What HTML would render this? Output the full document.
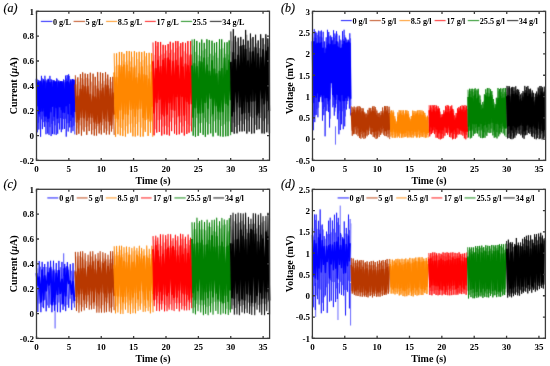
<!DOCTYPE html><html><head><meta charset="utf-8"><style>html,body{margin:0;padding:0;background:#fff;}svg{display:block;will-change:transform}</style></head><body>
<svg width="550" height="366" viewBox="0 0 550 366">
<defs><filter id="bl" x="0" y="0" width="550" height="366" filterUnits="userSpaceOnUse" color-interpolation-filters="sRGB"><feConvolveMatrix order="3" kernelMatrix="0.01134 0.08382 0.01134 0.08382 0.61935 0.08382 0.01134 0.08382 0.01134" edgeMode="duplicate"/></filter></defs>
<rect width="550" height="366" fill="#fff"/>
<g filter="url(#bl)">
<g stroke-linejoin="round" stroke-linecap="butt">
<polyline fill="none" stroke="#0000ff" stroke-width="0.80" stroke-opacity="0.50" points="37.35,79.46 38.20,122.72 39.11,80.46 39.70,116.75 40.99,81.10 41.43,119.30 42.30,78.20 43.27,122.11 44.15,80.05 45.25,121.30 45.76,79.16 46.83,122.33 47.78,80.67 48.61,122.12 49.04,79.95 49.89,127.12 50.76,79.23 51.95,123.98 52.50,80.02 53.31,120.87 54.59,80.25 55.06,125.37 55.85,81.11 57.04,118.85 57.55,79.38 58.54,123.20 59.49,80.74 60.50,118.10 61.27,81.02 62.19,118.24 62.62,81.10 63.58,119.04 64.39,80.27 65.43,118.74 66.46,78.57 67.07,123.27 67.99,76.52 69.04,123.02 69.47,75.92 70.60,121.02 71.34,79.77 71.99,127.26 73.17,79.68 73.83,125.75 74.71,80.33"/>
<polyline fill="none" stroke="#0000ff" stroke-width="0.75" points="36.50,78.22 37.35,132.32 38.26,79.96 38.85,129.55 40.14,81.24 40.58,136.77 41.45,75.85 42.42,129.11 43.30,78.98 44.40,126.92 44.91,75.76 45.98,134.27 46.93,80.36 47.76,133.59 48.19,78.74 49.04,134.89 49.91,75.88 51.10,136.05 51.65,79.50 52.46,134.08 53.74,80.04 54.21,134.33 55.00,81.42 56.19,134.92 56.70,78.39 57.69,133.76 58.64,80.51 59.65,129.44 60.42,81.06 61.34,132.13 61.77,81.22 62.73,129.36 63.54,79.42 64.58,128.97 65.61,75.57 66.22,136.64 67.14,75.03 68.19,131.50 68.62,74.31 69.75,127.40 70.49,79.49 71.14,132.78 72.32,79.29 72.98,131.16 73.86,79.94 74.81,134.44"/>
<polyline fill="none" stroke="#0000ff" stroke-width="1.60" points="36.50,79.14 37.35,105.76 38.26,82.54 38.85,113.73 40.14,81.24 40.58,111.14 41.45,82.81 42.42,111.00 43.30,81.05 44.40,116.03 44.91,81.74 45.98,116.13 46.93,82.93 47.76,118.22 48.19,79.74 49.04,117.97 49.91,82.52 51.10,111.63 51.65,82.39 52.46,106.20 53.74,81.68 54.21,116.25 55.00,82.06 56.19,107.51 56.70,81.93 57.69,117.89 58.64,82.18 59.65,106.78 60.42,82.12 61.34,109.47 61.77,81.95 62.73,112.21 63.54,82.65 64.58,112.49 65.61,82.86 66.22,105.63 67.14,81.45 68.19,113.69 68.62,82.86 69.75,103.21 70.49,81.62 71.14,114.41 72.32,79.68 72.98,116.98 73.86,79.94 74.81,111.99"/>
<polyline fill="none" stroke="#b83800" stroke-width="0.80" stroke-opacity="0.30" points="76.58,79.29 77.95,128.49 79.05,81.78 80.10,125.36 81.68,78.05 82.71,129.72 83.93,79.21 85.30,127.12 86.43,77.76 88.02,126.46 88.90,78.65 90.44,123.88 91.56,81.66 92.90,130.15 94.32,85.42 95.52,128.85 96.49,85.68 97.81,126.16 98.90,81.08 100.40,130.32 101.68,83.68 102.59,125.26 103.97,80.88 105.39,128.66 106.79,78.53 107.65,130.82 109.02,79.49 110.56,125.47 111.69,81.83 112.69,128.96 114.10,80.27"/>
<polyline fill="none" stroke="#b83800" stroke-width="0.95" points="75.33,75.23 76.70,134.80 77.80,77.42 78.85,133.75 80.43,74.03 81.46,135.55 82.68,72.40 84.05,131.60 85.18,73.57 86.77,134.82 87.65,74.02 89.19,131.06 90.31,72.75 91.65,134.34 93.07,73.71 94.27,135.54 95.24,76.85 96.56,135.55 97.65,72.20 99.15,133.42 100.43,72.48 101.34,134.44 102.72,73.07 104.14,132.71 105.54,72.24 106.40,134.53 107.77,74.59 109.31,134.48 110.44,77.18 111.44,131.52 112.85,76.84 114.17,134.95"/>
<polyline fill="none" stroke="#b83800" stroke-width="1.90" points="75.33,84.38 76.70,122.06 77.80,96.25 78.85,119.18 80.43,89.33 81.46,117.15 82.68,85.53 84.05,117.44 85.18,86.83 86.77,120.34 87.65,86.42 89.19,116.87 90.31,94.55 91.65,117.31 93.07,96.37 94.27,121.76 95.24,97.09 96.56,123.12 97.65,89.13 99.15,122.87 100.43,91.14 101.34,121.82 102.72,88.25 104.14,118.19 105.54,85.18 106.40,120.82 107.77,85.87 109.31,121.11 110.44,88.97 111.44,124.83 112.85,93.16 114.17,114.68"/>
<polyline fill="none" stroke="#ff8700" stroke-width="0.80" stroke-opacity="0.30" points="115.44,66.24 116.82,122.30 117.83,65.14 119.17,126.73 120.64,65.25 121.53,127.95 122.99,60.52 124.07,130.35 125.27,61.83 126.70,126.10 127.97,60.40 129.12,124.32 130.51,61.48 131.90,123.58 132.73,56.86 134.15,127.26 135.63,65.62 136.51,123.95 137.84,59.08 138.98,122.08 140.43,61.84 141.68,127.64 142.99,60.02 144.35,129.64 145.62,56.38 146.53,120.03 147.79,65.51 149.33,121.43 150.37,64.42 151.76,120.15 152.92,59.98"/>
<polyline fill="none" stroke="#ff8700" stroke-width="0.95" points="114.19,53.26 115.57,136.77 116.58,53.37 117.92,134.19 119.39,51.96 120.28,135.41 121.74,52.08 122.82,136.07 124.02,53.76 125.45,136.59 126.72,51.06 127.87,133.60 129.26,51.08 130.65,132.55 131.48,51.76 132.90,136.29 134.38,51.12 135.26,136.54 136.59,52.49 137.73,135.50 139.18,51.77 140.43,136.67 141.74,52.11 143.10,136.52 144.37,51.43 145.28,131.84 146.54,53.03 148.08,135.91 149.12,52.81 150.51,132.66 151.67,53.20 152.76,136.77"/>
<polyline fill="none" stroke="#ff8700" stroke-width="1.90" points="114.19,72.37 115.57,118.14 116.58,77.50 117.92,118.80 119.39,65.54 120.28,109.72 121.74,67.10 122.82,118.89 124.02,65.26 125.45,113.78 126.72,65.24 127.87,114.22 129.26,71.61 130.65,109.37 131.48,67.51 132.90,108.09 134.38,68.05 135.26,116.28 136.59,78.02 137.73,109.06 139.18,74.02 140.43,108.30 141.74,66.99 143.10,117.16 144.37,74.92 145.28,119.59 146.54,75.74 148.08,117.98 149.12,79.31 150.51,120.93 151.67,72.14 152.76,106.68"/>
<polyline fill="none" stroke="#ff0000" stroke-width="0.80" stroke-opacity="0.30" points="154.28,54.85 155.34,129.28 156.96,45.89 157.98,120.09 159.26,56.05 160.60,119.58 161.87,54.47 163.01,126.63 164.35,53.48 165.55,125.79 166.63,50.53 168.16,127.19 169.35,53.09 170.61,121.65 171.51,49.70 172.87,117.63 174.33,52.59 175.75,124.64 176.99,48.10 177.88,117.27 179.19,46.38 180.53,122.40 182.00,55.79 183.05,126.35 184.08,51.28 185.56,120.94 186.76,53.67 188.08,124.33 189.15,55.45 190.33,125.94"/>
<polyline fill="none" stroke="#ff0000" stroke-width="0.95" points="153.03,42.44 154.09,135.34 155.71,41.17 156.73,132.64 158.01,42.04 159.35,132.01 160.62,41.94 161.76,135.55 163.10,44.80 164.30,134.29 165.38,45.25 166.91,134.73 168.10,44.05 169.36,135.53 170.26,41.75 171.62,131.11 173.08,42.73 174.50,133.50 175.74,41.12 176.63,134.75 177.94,41.17 179.28,134.27 180.75,43.14 181.80,132.69 182.83,42.23 184.31,135.53 185.51,42.90 186.83,133.99 187.90,41.12 189.08,132.72 190.62,41.13 191.54,131.47"/>
<polyline fill="none" stroke="#ff0000" stroke-width="1.90" points="153.03,61.23 154.09,112.83 155.71,68.72 156.73,102.12 158.01,60.75 159.35,99.08 160.62,66.75 161.76,113.94 163.10,60.33 164.30,115.81 165.38,58.63 166.91,114.01 168.10,58.32 169.36,102.43 170.26,60.19 171.62,109.20 173.08,61.75 174.50,109.93 175.74,60.54 176.63,96.35 177.94,65.93 179.28,115.48 180.75,57.67 181.80,96.23 182.83,67.13 184.31,115.02 185.51,64.23 186.83,101.21 187.90,66.01 189.08,103.43 190.62,55.02 191.54,104.26"/>
<polyline fill="none" stroke="#008000" stroke-width="0.80" stroke-opacity="0.30" points="193.32,45.61 194.44,127.32 195.64,51.90 196.69,117.77 198.05,55.17 199.37,123.34 200.83,56.19 201.64,122.81 203.01,50.57 204.38,117.96 205.46,48.86 206.60,122.25 208.15,57.00 209.13,123.93 210.52,53.77 211.96,116.45 213.24,55.70 214.30,121.26 215.66,52.72 216.96,119.38 217.88,57.82 219.37,119.85 220.72,49.13 221.62,125.97 222.97,48.31 224.27,124.37 225.79,53.81 226.98,121.65 228.30,54.56 229.27,121.37 230.43,51.41"/>
<polyline fill="none" stroke="#008000" stroke-width="0.95" points="192.07,39.48 193.19,135.70 194.39,39.31 195.44,136.78 196.80,40.92 198.12,135.92 199.58,42.64 200.39,132.83 201.76,39.53 203.13,134.80 204.21,42.83 205.35,136.77 206.90,39.30 207.88,134.52 209.27,40.11 210.71,133.30 211.99,40.71 213.05,136.46 214.41,42.90 215.71,132.58 216.63,42.11 218.12,135.62 219.47,39.28 220.37,136.33 221.72,39.33 223.02,136.72 224.54,42.55 225.73,136.33 227.05,42.24 228.02,136.14 229.18,40.44 230.67,135.22"/>
<polyline fill="none" stroke="#008000" stroke-width="1.90" points="192.07,65.53 193.19,116.97 194.39,63.65 195.44,107.56 196.80,66.80 198.12,112.77 199.58,61.59 200.39,112.91 201.76,62.51 203.13,112.26 204.21,58.20 205.35,102.19 206.90,65.19 207.88,108.03 209.27,71.38 210.71,98.09 211.99,60.94 213.05,113.44 214.41,69.24 215.71,105.46 216.63,73.85 218.12,110.84 219.47,71.33 220.37,111.67 221.72,68.63 223.02,111.34 224.54,58.24 225.73,103.17 227.05,70.68 228.02,104.79 229.18,60.41 230.67,100.22"/>
<polyline fill="none" stroke="#000000" stroke-width="0.80" stroke-opacity="0.30" points="232.11,41.20 233.19,122.68 234.57,36.62 235.46,126.97 236.71,41.66 238.24,125.00 239.43,46.12 240.90,120.89 242.03,45.14 243.33,124.20 244.58,44.82 245.68,119.34 246.88,34.76 248.10,120.59 249.31,47.70 250.47,116.57 251.70,38.47 252.93,117.87 254.28,46.74 255.51,124.84 256.82,43.39 258.05,117.71 259.44,48.18 260.44,117.93 261.93,38.25 263.25,121.15 264.35,44.26 265.50,118.40 267.10,38.23 268.05,124.30 269.17,42.85"/>
<polyline fill="none" stroke="#000000" stroke-width="0.95" points="230.86,31.41 231.94,132.09 233.32,29.15 234.21,133.65 235.46,35.89 236.99,133.39 238.18,37.70 239.65,131.44 240.78,36.91 242.08,131.48 243.33,39.48 244.43,131.18 245.63,29.93 246.85,133.55 248.06,40.67 249.22,131.60 250.45,33.57 251.68,133.63 253.03,37.03 254.26,133.29 255.57,34.74 256.80,129.77 258.19,40.48 259.19,129.22 260.68,34.31 262.00,133.41 263.10,38.16 264.25,133.56 265.85,34.31 266.80,132.27 267.92,38.51 269.21,133.32"/>
<polyline fill="none" stroke="#000000" stroke-width="1.90" points="230.86,61.86 231.94,115.69 233.32,52.73 234.21,111.41 235.46,59.74 236.99,101.75 238.18,55.38 239.65,106.85 240.78,46.33 242.08,113.58 243.33,45.58 244.43,112.62 245.63,49.35 246.85,101.44 248.06,61.21 249.22,112.13 250.45,52.08 251.68,101.07 253.03,51.90 254.26,100.85 255.57,48.03 256.80,114.72 258.19,53.85 259.19,112.61 260.68,57.47 262.00,97.83 263.10,49.83 264.25,103.64 265.85,51.16 266.80,100.44 267.92,47.52 269.21,111.02"/>
</g>
<line x1="40.90" x2="52.40" y1="21.40" y2="21.40" stroke="#0000ff" stroke-width="0.90" stroke-opacity="1.00"/>
<line x1="73.60" x2="85.10" y1="21.40" y2="21.40" stroke="#b83800" stroke-width="0.90" stroke-opacity="1.00"/>
<line x1="106.10" x2="117.30" y1="21.40" y2="21.40" stroke="#ff8700" stroke-width="0.90" stroke-opacity="1.00"/>
<line x1="144.90" x2="155.80" y1="21.40" y2="21.40" stroke="#ff0000" stroke-width="0.90" stroke-opacity="1.00"/>
<line x1="180.90" x2="192.10" y1="21.40" y2="21.40" stroke="#008000" stroke-width="0.90" stroke-opacity="1.00"/>
<line x1="209.90" x2="221.70" y1="21.40" y2="21.40" stroke="#000000" stroke-width="0.90" stroke-opacity="1.00"/>
<g stroke-linejoin="round" stroke-linecap="butt">
<polyline fill="none" stroke="#0000ff" stroke-width="0.80" stroke-opacity="0.40" points="313.25,37.54 314.18,114.71 314.96,37.60 315.52,115.47 316.16,38.00 316.98,109.14 317.55,34.93 318.66,107.76 319.36,36.65 319.76,99.25 320.81,36.50 321.40,96.36 322.13,37.50 323.22,108.93 323.91,41.60 324.59,106.96 325.42,47.41 325.83,111.33 326.96,41.77 327.63,104.34 328.21,35.14 329.24,106.76 329.51,36.30 330.30,118.69 331.41,37.99 332.20,87.80 332.57,39.77 333.61,105.16 334.31,37.81 335.04,111.64 335.68,35.60 336.32,103.84 337.28,33.80 338.16,113.35 338.64,43.36 339.67,110.72 340.02,39.03 341.08,119.67 341.69,47.11 342.35,111.30 343.28,38.99 344.03,108.41 344.84,35.23 345.48,116.51 346.38,38.68 347.17,104.26 347.78,41.32 348.47,98.51 349.36,41.15 350.13,100.10 350.56,38.32 351.28,105.64"/>
<polyline fill="none" stroke="#0000ff" stroke-width="0.70" points="312.50,33.57 313.43,130.21 314.21,29.15 314.77,122.13 315.41,31.57 316.23,114.94 316.80,32.61 317.91,117.28 318.61,30.70 319.01,101.25 320.06,31.33 320.65,97.14 321.38,30.48 322.47,120.72 323.16,31.78 323.84,115.20 324.67,41.45 325.08,136.32 326.21,37.35 326.88,110.83 327.46,29.80 328.49,112.06 328.76,31.97 329.55,127.53 330.66,35.51 331.45,82.32 331.82,36.94 332.86,107.31 333.56,30.26 334.29,115.63 334.93,33.50 335.57,107.58 336.53,31.27 337.41,119.28 337.89,41.57 338.92,134.29 339.27,35.56 340.33,130.07 340.94,40.33 341.60,124.27 342.53,31.18 343.28,129.20 344.09,29.76 344.73,126.34 345.63,37.50 346.42,109.50 347.03,39.76 347.72,100.92 348.61,39.69 349.38,108.60 349.81,33.29 350.53,115.49"/>
<polyline fill="none" stroke="#0000ff" stroke-width="1.80" points="312.50,41.29 313.43,102.26 314.21,41.87 314.77,94.43 315.41,45.22 316.23,96.93 316.80,43.50 317.91,92.62 318.61,43.04 319.01,101.25 320.06,43.90 320.65,94.59 321.38,42.55 322.47,101.42 323.16,48.52 323.84,94.71 324.67,53.69 325.08,97.52 326.21,49.03 326.88,97.26 327.46,45.50 328.49,100.66 328.76,44.24 329.55,98.74 330.66,44.86 331.45,82.32 331.82,41.15 332.86,94.32 333.56,45.19 334.29,96.55 334.93,45.02 335.57,99.21 336.53,41.83 337.41,94.00 337.89,47.11 338.92,99.26 339.27,48.21 340.33,100.79 340.94,48.61 341.60,94.25 342.53,44.83 343.28,100.43 344.09,41.38 344.73,100.21 345.63,43.39 346.42,97.53 347.03,43.21 347.72,95.39 348.61,42.29 349.38,96.46 349.81,43.32 350.53,98.84"/>
<line x1="335.49" x2="335.49" y1="126.34" y2="144.65" stroke="#0000ff" stroke-width="0.60"/>
<polyline fill="none" stroke="#b83800" stroke-width="0.80" stroke-opacity="0.50" points="352.10,109.99 353.06,134.05 353.56,108.78 354.38,132.41 354.91,110.26 355.72,129.56 356.80,109.70 357.39,132.74 358.00,107.59 358.84,134.39 359.80,109.07 360.34,136.29 360.95,108.14 361.63,134.18 362.80,110.89 363.45,132.95 363.96,111.52 364.69,136.30 365.54,113.93 366.21,135.23 366.99,114.20 367.82,131.38 368.65,111.32 369.14,130.85 369.99,109.12 371.09,131.87 371.54,110.43 372.38,132.11 373.24,107.98 373.94,132.24 374.74,109.51 375.32,135.22 375.97,109.23 376.85,136.08 377.64,112.84 378.11,134.47 378.98,113.97 379.88,132.55 380.42,114.93 381.41,132.18 381.89,113.24 382.68,131.49 383.38,110.58 384.59,132.55 385.34,107.97 385.62,131.36 386.55,109.93 387.12,134.07 387.96,109.42 388.83,133.68 389.84,109.28"/>
<polyline fill="none" stroke="#b83800" stroke-width="0.80" points="351.35,106.24 352.31,135.74 352.81,107.29 353.63,134.22 354.16,106.52 354.97,134.06 356.05,107.32 356.64,134.48 357.25,106.44 358.09,136.18 359.05,106.00 359.59,137.92 360.20,106.81 360.88,138.73 362.05,108.25 362.70,137.57 363.21,108.39 363.94,138.85 364.79,112.47 365.46,138.20 366.24,113.49 367.07,136.30 367.90,109.88 368.39,134.90 369.24,107.86 370.34,134.09 370.79,107.94 371.63,134.52 372.49,106.49 373.19,136.80 373.99,106.09 374.57,137.44 375.22,107.06 376.10,138.98 376.89,110.61 377.36,138.28 378.23,113.20 379.13,136.87 379.67,112.70 380.66,134.94 381.14,111.20 381.93,133.35 382.63,107.44 383.84,134.81 384.59,106.04 384.87,136.03 385.80,106.11 386.37,136.20 387.21,106.05 388.08,137.37 389.09,106.70 389.67,139.07"/>
<polyline fill="none" stroke="#b83800" stroke-width="1.50" points="351.35,112.81 352.31,130.20 352.81,112.86 353.63,126.50 354.16,110.26 354.97,126.61 356.05,112.24 356.64,125.55 357.25,110.32 358.09,127.76 359.05,110.66 359.59,131.69 360.20,113.01 360.88,131.49 362.05,111.68 362.70,130.29 363.21,112.90 363.94,131.32 364.79,115.04 365.46,132.21 366.24,117.95 367.07,129.19 367.90,115.46 368.39,128.98 369.24,113.92 370.34,127.09 370.79,112.02 371.63,127.40 372.49,111.86 373.19,131.50 373.99,111.57 374.57,131.59 375.22,113.32 376.10,131.00 376.89,115.18 377.36,130.00 378.23,117.47 379.13,130.83 379.67,117.99 380.66,127.10 381.14,115.75 381.93,128.66 382.63,113.21 383.84,127.69 384.59,112.09 384.87,130.37 385.80,112.15 386.37,131.07 387.21,111.68 388.08,129.74 389.09,113.51 389.67,129.78"/>
<polyline fill="none" stroke="#ff8700" stroke-width="0.80" stroke-opacity="0.50" points="391.13,112.68 391.65,135.16 392.31,112.28 393.03,135.02 393.85,112.07 394.88,133.86 395.55,118.63 396.04,136.33 397.06,123.16 397.92,135.68 398.65,114.56 398.99,135.05 399.96,112.89 400.47,133.75 401.36,113.24 402.30,135.58 402.77,111.82 403.65,134.23 404.35,113.41 404.96,135.60 406.19,111.41 406.56,135.88 407.63,113.27 408.16,134.68 408.86,113.68 409.65,135.40 410.32,119.09 411.03,134.98 412.05,117.81 412.48,134.99 413.49,113.01 413.96,135.23 414.83,112.75 415.76,134.47 416.67,112.61 417.16,135.93 418.14,113.43 418.52,134.53 419.69,112.92 420.29,135.23 420.90,111.98 421.72,135.67 422.68,111.51 423.11,135.15 424.18,112.70 424.70,134.28 425.57,115.04 426.11,134.02 426.73,117.71 427.51,134.91 428.28,117.40"/>
<polyline fill="none" stroke="#ff8700" stroke-width="0.80" points="390.38,110.76 390.90,136.63 391.56,110.37 392.28,137.77 393.10,110.51 394.13,137.77 394.80,116.22 395.29,137.72 396.31,121.48 397.17,137.62 397.90,112.37 398.24,136.51 399.21,110.17 399.72,137.80 400.61,110.47 401.55,137.72 402.02,110.24 402.90,137.58 403.60,110.37 404.21,137.16 405.44,110.32 405.81,137.03 406.88,110.26 407.41,137.57 408.11,111.09 408.90,137.45 409.57,117.52 410.28,137.26 411.30,115.98 411.73,137.56 412.74,110.54 413.21,137.63 414.08,110.93 415.01,136.29 415.92,111.18 416.41,137.54 417.39,110.41 417.77,137.40 418.94,110.20 419.54,137.74 420.15,110.26 420.97,137.17 421.93,110.36 422.36,136.96 423.43,111.32 423.95,137.30 424.82,112.90 425.36,137.78 425.98,116.55 426.76,137.49 427.53,115.71 428.33,137.40"/>
<polyline fill="none" stroke="#ff8700" stroke-width="1.50" points="390.38,113.76 390.90,131.45 391.56,115.74 392.28,130.86 393.10,113.46 394.13,131.46 394.80,120.21 395.29,131.49 396.31,124.41 397.17,132.83 397.90,117.14 398.24,131.25 399.21,115.15 399.72,132.22 400.61,114.72 401.55,132.68 402.02,115.47 402.90,133.19 403.60,115.65 404.21,132.11 405.44,114.37 405.81,132.47 406.88,114.48 407.41,130.30 408.11,115.86 408.90,130.69 409.57,121.03 410.28,132.60 411.30,119.73 411.73,130.28 412.74,115.34 413.21,133.28 414.08,115.73 415.01,131.39 415.92,114.49 416.41,131.08 417.39,113.70 417.77,131.19 418.94,115.71 419.54,130.09 420.15,114.87 420.97,132.09 421.93,115.28 422.36,132.58 423.43,115.81 423.95,131.41 424.82,117.29 425.36,131.93 425.98,120.68 426.76,132.85 427.53,117.38 428.33,132.94"/>
<polyline fill="none" stroke="#ff0000" stroke-width="0.80" stroke-opacity="0.50" points="429.91,108.32 430.47,134.45 431.33,107.60 432.22,131.18 432.88,109.22 433.59,129.84 434.39,108.23 435.27,132.25 435.61,107.05 436.80,132.21 437.32,108.53 438.20,133.98 438.86,108.69 439.65,133.65 440.14,111.50 441.04,133.31 441.83,116.84 442.41,133.99 443.08,116.57 443.84,136.51 444.65,112.07 445.70,132.74 446.38,107.07 447.23,131.47 447.91,108.75 448.36,132.59 449.21,108.83 450.28,134.70 450.95,107.64 451.71,132.69 452.53,108.63 453.25,134.13 453.74,110.67 454.48,134.15 455.50,117.44 456.17,135.20 456.89,115.86 457.48,134.04 458.25,109.56 458.90,132.81 459.60,107.98 460.41,130.49 461.19,108.72 461.89,130.68 462.87,108.72 463.61,133.24 464.30,107.23 465.14,134.30 465.74,107.59 466.56,135.10 467.35,109.06"/>
<polyline fill="none" stroke="#ff0000" stroke-width="0.80" points="429.16,105.19 429.72,136.42 430.58,105.43 431.47,134.07 432.13,105.17 432.84,132.93 433.64,105.43 434.52,134.09 434.86,105.06 436.05,137.71 436.57,105.55 437.45,137.73 438.11,106.30 438.90,138.90 439.39,108.45 440.29,139.43 441.08,114.49 441.66,138.75 442.33,114.25 443.09,138.16 443.90,110.25 444.95,135.66 445.63,105.88 446.48,132.82 447.16,105.12 447.61,134.69 448.46,105.62 449.53,136.96 450.20,106.21 450.96,137.51 451.78,105.40 452.50,139.30 452.99,109.21 453.73,138.74 454.75,115.38 455.42,138.85 456.14,113.08 456.73,137.53 457.50,108.40 458.15,134.70 458.85,107.13 459.66,134.25 460.44,106.03 461.14,134.69 462.12,105.36 462.86,135.69 463.55,105.74 464.39,138.29 464.99,105.17 465.81,139.30 466.60,105.81 467.28,137.82"/>
<polyline fill="none" stroke="#ff0000" stroke-width="1.50" points="429.16,110.25 429.72,131.15 430.58,110.28 431.47,126.89 432.13,112.14 432.84,129.85 433.64,110.55 434.52,126.80 434.86,111.78 436.05,128.88 436.57,111.47 437.45,129.17 438.11,109.30 438.90,132.13 439.39,112.37 440.29,129.62 441.08,118.35 441.66,129.70 442.33,117.50 443.09,129.86 443.90,114.00 444.95,126.90 445.63,111.81 446.48,127.86 447.16,112.71 447.61,127.63 448.46,112.77 449.53,129.43 450.20,111.38 450.96,132.55 451.78,110.28 452.50,130.88 452.99,113.67 453.73,129.77 454.75,120.25 455.42,131.55 456.14,118.56 456.73,127.37 457.50,113.44 458.15,128.07 458.85,111.27 459.66,128.90 460.44,109.42 461.14,130.23 462.12,110.50 462.86,130.99 463.55,112.40 464.39,130.99 464.99,110.66 465.81,131.16 466.60,109.47 467.28,131.85"/>
<polyline fill="none" stroke="#008000" stroke-width="0.80" stroke-opacity="0.50" points="468.77,91.52 469.21,130.96 470.32,90.97 471.05,130.30 471.84,91.16 472.38,130.67 473.04,92.03 474.04,132.68 474.83,90.89 475.55,127.82 475.92,90.58 476.71,130.66 477.71,90.88 478.25,130.55 479.00,94.16 479.82,130.27 480.70,99.59 481.50,130.35 482.37,107.68 483.15,132.00 483.56,104.33 484.36,132.35 485.15,96.47 485.77,134.65 486.54,92.71 487.62,131.68 488.12,92.79 488.87,129.86 489.74,93.46 490.60,128.40 491.31,92.37 491.70,128.50 492.59,94.82 493.60,131.64 494.13,102.48 494.99,135.26 495.90,106.10 496.50,132.11 497.10,99.02 497.75,132.28 498.77,91.23 499.46,133.20 500.27,92.54 500.66,131.95 501.41,91.84 502.21,128.81 502.96,93.80 503.91,128.24 504.61,92.07 505.43,128.76 506.33,91.78"/>
<polyline fill="none" stroke="#008000" stroke-width="0.80" points="468.02,89.70 468.46,137.42 469.57,88.75 470.30,138.42 471.09,88.89 471.63,137.71 472.29,88.73 473.29,135.83 474.08,89.04 474.80,133.95 475.17,88.23 475.96,133.10 476.96,89.41 477.50,133.56 478.25,88.79 479.07,136.44 479.95,95.49 480.75,138.01 481.62,104.73 482.40,138.17 482.81,102.15 483.61,137.77 484.40,94.34 485.02,137.73 485.79,89.27 486.87,135.92 487.37,88.04 488.12,132.71 488.99,88.13 489.85,133.08 490.56,89.26 490.95,132.75 491.84,91.00 492.85,135.41 493.38,99.08 494.24,137.73 495.15,104.11 495.75,137.26 496.35,97.77 497.00,138.44 498.02,88.04 498.71,136.33 499.52,89.05 499.91,134.27 500.66,88.24 501.46,132.41 502.21,88.58 503.16,133.49 503.86,88.03 504.68,135.41 505.58,88.07 506.10,137.06"/>
<polyline fill="none" stroke="#008000" stroke-width="1.50" points="468.02,97.04 468.46,126.27 469.57,94.31 470.30,129.99 471.09,97.82 471.63,128.69 472.29,98.72 473.29,123.62 474.08,96.29 474.80,123.75 475.17,94.68 475.96,123.62 476.96,98.73 477.50,126.77 478.25,96.90 479.07,126.32 479.95,103.34 480.75,123.34 481.62,110.10 482.40,128.10 482.81,109.07 483.61,125.58 484.40,101.16 485.02,124.47 485.79,95.64 486.87,126.88 487.37,96.96 488.12,123.41 488.99,96.99 489.85,123.80 490.56,96.08 490.95,122.20 491.84,97.41 492.85,122.31 493.38,105.50 494.24,129.54 495.15,108.32 495.75,122.99 496.35,105.03 497.00,123.51 498.02,98.24 498.71,123.97 499.52,98.49 499.91,127.86 500.66,96.36 501.46,123.24 502.21,98.43 503.16,125.93 503.86,97.99 504.68,127.38 505.58,94.14 506.10,128.43"/>
<polyline fill="none" stroke="#000000" stroke-width="0.80" stroke-opacity="0.50" points="507.50,88.38 508.37,134.12 508.76,87.84 509.82,133.32 510.29,88.29 511.16,136.31 512.22,89.11 512.70,133.07 513.43,90.79 514.22,135.63 514.78,90.81 515.61,132.35 516.49,89.99 517.00,129.61 518.05,91.24 518.68,130.62 519.41,91.99 520.03,129.75 521.15,97.91 521.64,133.60 522.67,95.35 523.39,134.57 523.77,92.62 524.82,135.38 525.54,90.08 526.34,130.20 527.14,90.74 527.72,130.51 528.62,88.36 529.33,128.72 529.91,90.35 530.61,131.81 531.31,92.60 532.22,134.18 533.00,92.40 533.55,133.41 534.35,96.89 535.30,134.45 536.17,96.89 536.99,132.97 537.38,94.97 538.03,134.80 538.97,89.01 539.95,132.89 540.63,88.33 541.02,134.25 541.92,88.74 542.90,132.99 543.35,91.83 544.38,136.36 545.09,89.29"/>
<polyline fill="none" stroke="#000000" stroke-width="0.80" points="506.75,85.90 507.62,138.46 508.01,86.02 509.07,138.01 509.54,86.35 510.41,139.02 511.47,87.36 511.95,139.24 512.68,86.86 513.47,138.53 514.03,87.21 514.86,137.72 515.74,86.28 516.25,135.35 517.30,89.11 517.93,133.51 518.66,89.70 519.28,133.98 520.40,94.48 520.89,135.25 521.92,93.24 522.64,137.59 523.02,91.08 524.07,138.81 524.79,85.90 525.59,135.20 526.39,86.90 526.97,134.75 527.87,85.97 528.58,132.96 529.16,89.07 529.86,133.85 530.56,88.68 531.47,136.27 532.25,90.43 532.80,137.11 533.60,93.09 534.55,138.72 535.42,93.60 536.24,139.28 536.63,91.50 537.28,138.09 538.22,87.55 539.20,139.10 539.88,86.01 540.27,138.50 541.17,86.10 542.15,139.52 542.60,87.23 543.63,138.82 544.34,86.65 544.90,137.97"/>
<polyline fill="none" stroke="#000000" stroke-width="1.50" points="506.75,96.18 507.62,126.19 508.01,95.43 509.07,125.46 509.54,96.40 510.41,129.49 511.47,94.41 511.95,130.01 512.68,94.53 513.47,125.37 514.03,94.17 514.86,127.07 515.74,93.14 516.25,129.51 517.30,95.10 517.93,126.87 518.66,96.70 519.28,125.37 520.40,99.67 520.89,125.07 521.92,101.37 522.64,125.33 523.02,97.34 524.07,130.97 524.79,93.20 525.59,130.06 526.39,93.13 526.97,125.01 527.87,96.38 528.58,124.67 529.16,94.11 529.86,126.74 530.56,94.56 531.47,128.37 532.25,97.32 532.80,125.97 533.60,101.92 534.55,127.65 535.42,100.35 536.24,129.77 536.63,97.20 537.28,127.66 538.22,94.11 539.20,128.38 539.88,95.40 540.27,128.92 541.17,92.11 542.15,130.36 542.60,93.85 543.63,131.12 544.34,92.11 544.90,129.98"/>
</g>
<line x1="340.90" x2="351.80" y1="20.60" y2="20.60" stroke="#0000ff" stroke-width="0.90" stroke-opacity="1.00"/>
<line x1="369.60" x2="380.90" y1="20.60" y2="20.60" stroke="#b83800" stroke-width="0.90" stroke-opacity="1.00"/>
<line x1="399.40" x2="410.30" y1="20.60" y2="20.60" stroke="#ff8700" stroke-width="0.90" stroke-opacity="1.00"/>
<line x1="434.60" x2="445.60" y1="20.60" y2="20.60" stroke="#ff0000" stroke-width="0.90" stroke-opacity="1.00"/>
<line x1="467.80" x2="479.20" y1="20.60" y2="20.60" stroke="#008000" stroke-width="0.90" stroke-opacity="1.00"/>
<line x1="507.00" x2="518.30" y1="20.60" y2="20.60" stroke="#000000" stroke-width="0.90" stroke-opacity="1.00"/>
<g stroke-linejoin="round" stroke-linecap="butt">
<polyline fill="none" stroke="#0000ff" stroke-width="0.80" stroke-opacity="0.50" points="37.90,268.22 39.20,303.61 40.59,266.72 42.29,307.13 43.55,267.01 44.98,299.88 46.08,267.01 47.57,305.38 49.32,268.05 50.37,304.57 51.98,269.22 53.33,302.11 54.89,269.44 55.86,304.60 57.68,270.15 58.91,302.48 60.30,267.23 61.69,304.44 63.34,268.45 64.42,306.43 66.12,266.23 67.06,304.89 68.76,269.79 70.11,298.67 71.68,270.75 73.06,303.28 74.43,270.25"/>
<polyline fill="none" stroke="#0000ff" stroke-width="0.80" points="36.50,260.75 37.80,311.99 39.19,261.05 40.89,312.18 42.15,261.85 43.58,308.11 44.68,264.01 46.17,311.29 47.92,261.70 48.97,307.82 50.58,260.76 51.93,312.24 53.49,260.76 54.46,310.69 56.28,263.04 57.51,312.14 58.90,260.89 60.29,312.28 61.94,261.92 63.02,309.86 64.72,263.94 65.66,311.12 67.36,262.15 68.71,307.73 70.28,264.16 71.66,309.95 73.03,263.18 74.45,307.58"/>
<polyline fill="none" stroke="#0000ff" stroke-width="1.90" points="36.50,273.21 37.80,285.43 39.19,277.27 40.89,301.71 42.15,270.13 43.58,299.83 44.68,275.94 46.17,290.77 47.92,272.76 48.97,284.95 50.58,267.50 51.93,304.60 53.49,271.19 54.46,304.47 56.28,273.46 57.51,294.27 58.90,270.58 60.29,293.38 61.94,279.51 63.02,303.49 64.72,268.18 65.66,295.70 67.36,267.01 68.71,283.20 70.28,281.24 71.66,294.11 73.03,281.61 74.45,301.13"/>
<line x1="63.70" x2="63.70" y1="276.27" y2="253.29" stroke="#0000ff" stroke-width="0.70"/>
<line x1="55.08" x2="55.08" y1="301.12" y2="328.46" stroke="#0000ff" stroke-width="0.70"/>
<polyline fill="none" stroke="#b83800" stroke-width="0.80" stroke-opacity="0.30" points="76.60,256.43 77.73,302.91 79.19,255.86 80.19,304.81 81.74,257.24 82.73,307.08 83.94,259.50 85.46,304.08 86.39,261.13 87.81,301.55 89.31,262.20 90.49,305.27 91.54,256.54 92.84,303.20 94.04,260.80 95.20,305.59 96.52,258.66 98.07,306.36 99.29,259.52 100.29,308.53 101.39,261.54 102.75,305.16 104.12,258.61 105.57,301.61 106.50,259.30 107.68,303.14 109.25,259.49 110.52,307.80 111.84,258.88 112.63,306.86 113.96,255.91"/>
<polyline fill="none" stroke="#b83800" stroke-width="1.05" points="75.35,251.87 76.48,310.60 77.94,252.20 78.94,312.20 80.49,251.84 81.48,310.95 82.69,251.63 84.21,310.05 85.14,253.60 86.56,307.44 88.06,255.08 89.24,309.27 90.29,251.73 91.59,308.98 92.79,251.44 93.95,308.48 95.27,254.65 96.82,312.12 98.04,253.39 99.04,312.24 100.14,251.55 101.50,312.14 102.87,252.63 104.32,312.27 105.25,253.58 106.43,311.76 108.00,254.95 109.27,311.23 110.59,251.43 111.38,312.18 112.71,251.43 114.10,310.19"/>
<polyline fill="none" stroke="#b83800" stroke-width="1.90" points="75.35,271.40 76.48,296.45 77.94,269.11 78.94,293.37 80.49,269.07 81.48,293.38 82.69,268.41 84.21,299.44 85.14,269.00 86.56,294.69 88.06,267.51 89.24,294.33 90.29,265.36 91.59,290.66 92.79,262.01 93.95,301.36 95.27,270.07 96.82,292.04 98.04,261.65 99.04,293.59 100.14,267.93 101.50,291.89 102.87,263.60 104.32,293.02 105.25,261.91 106.43,296.93 108.00,266.76 109.27,292.66 110.59,263.59 111.38,292.46 112.71,269.26 114.10,295.76"/>
<polyline fill="none" stroke="#ff8700" stroke-width="0.80" stroke-opacity="0.30" points="115.45,254.12 116.76,306.38 117.86,251.97 119.16,303.59 120.66,249.89 121.89,309.83 122.84,254.20 124.24,303.79 125.25,252.86 126.70,302.60 127.70,252.27 129.27,305.12 130.44,254.51 131.67,303.40 133.11,251.17 134.20,308.90 135.44,250.45 136.70,303.01 138.12,251.11 139.29,306.19 140.60,253.72 141.57,303.49 142.87,251.09 144.42,305.87 145.25,255.25 146.54,308.04 148.01,255.44 149.38,306.81 150.48,254.13 151.64,302.54"/>
<polyline fill="none" stroke="#ff8700" stroke-width="1.05" points="114.20,246.18 115.51,312.87 116.61,246.31 117.91,312.10 119.41,246.04 120.64,313.42 121.59,245.94 122.99,313.43 124.00,247.59 125.45,309.32 126.45,246.75 128.02,312.49 129.19,247.37 130.42,313.51 131.86,248.21 132.95,312.65 134.19,246.70 135.45,312.97 136.87,248.24 138.04,310.39 139.35,245.95 140.32,309.35 141.62,248.17 143.17,311.49 144.00,249.43 145.29,311.15 146.76,245.89 148.13,310.61 149.23,249.15 150.39,312.93 151.85,246.03 153.05,312.23"/>
<polyline fill="none" stroke="#ff8700" stroke-width="1.90" points="114.20,264.71 115.51,295.83 116.61,256.28 117.91,295.67 119.41,255.76 120.64,296.26 121.59,257.89 122.99,301.60 124.00,261.65 125.45,296.33 126.45,262.43 128.02,291.16 129.19,255.42 130.42,299.81 131.86,262.58 132.95,296.83 134.19,262.22 135.45,292.46 136.87,255.33 138.04,298.73 139.35,256.97 140.32,290.35 141.62,259.02 143.17,290.85 144.00,256.41 145.29,299.30 146.76,257.85 148.13,299.63 149.23,258.73 150.39,290.35 151.85,258.59 153.05,293.91"/>
<polyline fill="none" stroke="#ff0000" stroke-width="0.80" stroke-opacity="0.30" points="154.30,239.62 155.47,299.73 157.03,240.78 157.97,303.43 159.07,244.08 160.67,304.22 161.67,245.93 162.98,303.85 164.26,242.53 165.78,305.24 166.93,239.22 168.25,307.50 169.31,245.77 170.38,304.32 171.91,240.89 173.15,300.16 174.29,247.20 175.34,303.06 176.61,240.34 178.00,303.14 179.07,246.55 180.54,302.92 181.78,238.84 183.04,306.00 184.11,239.01 185.55,306.14 186.68,243.94 187.98,301.76 189.36,240.06 190.53,302.70 191.74,242.15"/>
<polyline fill="none" stroke="#ff0000" stroke-width="1.05" points="153.05,236.12 154.22,305.73 155.78,235.94 156.72,310.58 157.82,237.73 159.42,310.68 160.42,234.56 161.73,309.34 163.01,234.85 164.53,310.97 165.68,235.56 167.00,310.67 168.06,234.21 169.13,309.18 170.66,234.54 171.90,309.77 173.04,238.56 174.09,310.61 175.36,234.93 176.75,308.44 177.82,236.54 179.29,311.06 180.53,234.09 181.79,308.92 182.86,234.49 184.30,310.02 185.43,237.14 186.73,309.88 188.11,234.87 189.28,309.67 190.49,238.04 191.75,308.27"/>
<polyline fill="none" stroke="#ff0000" stroke-width="1.90" points="153.05,249.16 154.22,299.57 155.78,245.79 156.72,295.17 157.82,250.99 159.42,291.51 160.42,256.66 161.73,299.99 163.01,254.65 164.53,294.15 165.68,249.71 167.00,295.38 168.06,248.19 169.13,292.34 170.66,248.17 171.90,294.15 173.04,246.70 174.09,297.11 175.36,250.53 176.75,296.96 177.82,255.95 179.29,290.08 180.53,245.90 181.79,292.83 182.86,254.82 184.30,293.77 185.43,248.89 186.73,294.38 188.11,253.82 189.28,299.20 190.49,245.62 191.75,297.64"/>
<polyline fill="none" stroke="#008000" stroke-width="0.80" stroke-opacity="0.30" points="193.26,229.35 194.37,307.47 195.67,229.13 196.66,303.79 198.21,222.87 199.25,304.73 200.81,229.51 202.01,305.44 203.03,229.39 204.64,304.73 205.76,230.33 206.91,306.83 208.35,226.43 209.36,305.98 210.66,226.94 211.83,303.26 213.25,231.08 214.29,301.77 215.59,231.71 217.09,301.72 217.96,225.70 219.28,301.63 220.81,228.49 222.00,303.55 223.14,225.16 224.43,303.07 225.51,224.51 226.82,308.77 228.36,231.30 229.50,309.70 230.51,226.36"/>
<polyline fill="none" stroke="#008000" stroke-width="1.05" points="192.01,222.36 193.12,312.67 194.42,222.65 195.41,313.93 196.96,218.12 198.00,310.65 199.56,221.36 200.76,311.91 201.78,220.35 203.39,314.70 204.51,222.37 205.66,313.57 207.10,220.06 208.11,314.69 209.41,222.76 210.58,311.93 212.00,220.25 213.04,314.15 214.34,220.02 215.84,310.46 216.71,217.91 218.03,313.60 219.56,221.55 220.75,314.23 221.89,218.37 223.18,312.95 224.26,219.79 225.57,313.83 227.11,220.16 228.25,314.56 229.26,218.54 230.42,312.39"/>
<polyline fill="none" stroke="#008000" stroke-width="1.90" points="192.01,238.91 193.12,292.58 194.42,244.10 195.41,299.63 196.96,243.16 198.00,290.41 199.56,243.28 200.76,299.37 201.78,240.47 203.39,299.82 204.51,245.21 205.66,291.81 207.10,244.97 208.11,297.54 209.41,240.34 210.58,290.61 212.00,236.06 213.04,296.64 214.34,247.29 215.84,292.89 216.71,236.63 218.03,298.70 219.56,246.26 220.75,301.09 221.89,242.45 223.18,302.51 224.26,247.27 225.57,295.26 227.11,246.92 228.25,301.15 229.26,245.97 230.42,290.45"/>
<polyline fill="none" stroke="#000000" stroke-width="0.80" stroke-opacity="0.30" points="232.02,229.59 233.18,305.38 234.28,221.25 235.59,307.93 236.91,223.60 238.18,304.11 239.38,222.45 240.63,306.08 242.01,220.94 243.31,304.92 244.46,224.41 245.76,308.75 246.86,229.06 248.40,302.58 249.68,224.07 250.87,306.16 252.19,223.95 253.04,306.59 254.51,223.67 256.00,301.86 256.82,228.46 258.28,305.12 259.55,225.08 260.95,304.43 262.02,222.41 263.01,303.62 264.29,220.94 265.78,304.16 267.16,229.83 268.02,302.04 269.26,218.25"/>
<polyline fill="none" stroke="#000000" stroke-width="1.05" points="230.77,215.02 231.93,308.77 233.03,212.97 234.34,314.33 235.66,214.27 236.93,313.99 238.13,212.91 239.38,314.71 240.76,213.51 242.06,312.09 243.21,213.85 244.51,313.03 245.61,212.91 247.15,312.40 248.43,217.25 249.62,313.51 250.94,219.01 251.79,314.41 253.26,213.50 254.75,314.76 255.57,213.85 257.03,309.31 258.30,215.01 259.70,311.97 260.77,213.61 261.76,314.49 263.04,216.51 264.53,314.73 265.91,216.17 266.77,310.84 268.01,213.07 269.41,314.37"/>
<polyline fill="none" stroke="#000000" stroke-width="1.90" points="230.77,243.20 231.93,297.46 233.03,244.43 234.34,298.33 235.66,240.00 236.93,292.88 238.13,239.65 239.38,300.67 240.76,230.12 242.06,298.66 243.21,236.45 244.51,299.92 245.61,239.80 247.15,293.36 248.43,233.48 249.62,294.82 250.94,229.62 251.79,302.30 253.26,230.53 254.75,302.59 255.57,234.21 257.03,295.31 258.30,241.92 259.70,292.46 260.77,235.23 261.76,298.20 263.04,239.26 264.53,297.94 265.91,232.25 266.77,291.46 268.01,236.95 269.41,300.43"/>
</g>
<line x1="47.30" x2="58.30" y1="197.90" y2="197.90" stroke="#0000ff" stroke-width="1.80" stroke-opacity="0.50"/>
<line x1="76.70" x2="87.60" y1="197.90" y2="197.90" stroke="#b83800" stroke-width="1.80" stroke-opacity="0.50"/>
<line x1="105.80" x2="116.70" y1="197.90" y2="197.90" stroke="#ff8700" stroke-width="1.80" stroke-opacity="0.50"/>
<line x1="141.00" x2="151.60" y1="197.90" y2="197.90" stroke="#ff0000" stroke-width="1.80" stroke-opacity="0.50"/>
<line x1="174.40" x2="185.70" y1="197.90" y2="197.90" stroke="#008000" stroke-width="1.80" stroke-opacity="0.50"/>
<line x1="213.30" x2="224.10" y1="197.90" y2="197.90" stroke="#000000" stroke-width="1.80" stroke-opacity="0.50"/>
<g stroke-linejoin="round" stroke-linecap="butt">
<polyline fill="none" stroke="#0000ff" stroke-width="0.80" stroke-opacity="0.40" points="313.47,236.50 314.43,286.01 315.51,220.07 316.27,295.52 317.18,228.90 318.57,288.59 319.46,229.69 320.18,289.59 321.17,225.39 322.32,302.81 323.24,229.56 324.43,297.19 325.19,238.75 326.38,287.22 327.53,234.14 328.22,283.63 329.59,234.07 330.57,280.25 331.21,232.35 332.25,281.93 333.42,228.81 334.40,282.03 335.46,232.61 336.59,288.39 337.62,222.34 338.34,279.45 339.29,224.83 340.50,281.75 341.58,234.54 342.52,285.12 343.63,238.03 344.65,290.03 345.22,233.49 346.54,290.12 347.31,233.88 348.58,280.66 349.50,230.13 350.43,281.69 351.15,223.40"/>
<polyline fill="none" stroke="#0000ff" stroke-width="0.70" points="312.47,228.17 313.43,307.26 314.51,214.46 315.27,309.91 316.18,214.49 317.57,299.15 318.46,220.77 319.18,304.47 320.17,209.44 321.32,313.24 322.24,224.51 323.43,310.93 324.19,236.13 325.38,295.48 326.53,231.59 327.22,312.89 328.59,220.70 329.57,301.67 330.21,217.69 331.25,300.68 332.42,220.53 333.40,307.12 334.46,214.71 335.59,302.03 336.62,212.76 337.34,298.99 338.29,217.89 339.50,293.42 340.58,232.97 341.52,294.93 342.63,237.19 343.65,295.61 344.22,221.43 345.54,315.44 346.31,227.91 347.58,291.84 348.50,214.60 349.43,308.36 350.15,219.02"/>
<polyline fill="none" stroke="#0000ff" stroke-width="1.40" points="312.47,234.90 313.43,276.29 314.51,240.51 315.27,278.05 316.18,243.81 317.57,279.21 318.46,237.68 319.18,268.06 320.17,234.29 321.32,271.96 322.24,240.46 323.43,264.42 324.19,246.41 325.38,272.47 326.53,246.17 327.22,261.57 328.59,245.73 329.57,278.02 330.21,244.40 331.25,264.02 332.42,244.92 333.40,269.75 334.46,242.55 335.59,268.21 336.62,241.94 337.34,277.87 338.29,237.26 339.50,264.35 340.58,245.39 341.52,267.65 342.63,239.47 343.65,273.15 344.22,239.63 345.54,272.64 346.31,244.39 347.58,265.79 348.50,236.00 349.43,260.89 350.15,243.32"/>
<line x1="350.59" x2="350.59" y1="282.99" y2="325.54" stroke="#0000ff" stroke-width="0.60"/>
<line x1="337.97" x2="337.97" y1="282.99" y2="320.01" stroke="#0000ff" stroke-width="0.60"/>
<line x1="315.64" x2="315.64" y1="282.99" y2="317.03" stroke="#0000ff" stroke-width="0.60"/>
<line x1="340.23" x2="340.23" y1="240.45" y2="205.57" stroke="#0000ff" stroke-width="0.60"/>
<polyline fill="none" stroke="#b83800" stroke-width="0.80" stroke-opacity="0.50" points="352.30,262.63 353.22,292.67 354.19,262.84 355.35,291.80 356.37,263.01 357.06,292.41 358.35,261.49 359.01,293.52 360.40,262.50 361.17,292.74 362.10,265.43 363.25,295.21 364.16,263.07 365.43,295.14 366.32,264.24 367.30,294.48 368.12,264.69 369.01,295.39 370.48,265.24 371.24,295.09 372.23,265.21 373.48,293.78 374.32,264.77 375.28,293.73 376.17,266.70 377.43,293.49 378.43,263.97 379.09,293.12 380.45,262.79 381.04,294.12 382.43,265.63 383.29,294.58 384.09,261.95 385.46,293.46 386.44,263.20 387.05,293.56 388.11,263.78 389.36,291.74"/>
<polyline fill="none" stroke="#b83800" stroke-width="0.90" points="351.30,257.92 352.22,293.61 353.19,258.54 354.35,294.77 355.37,260.46 356.06,295.61 357.35,259.87 358.01,296.01 359.40,260.52 360.17,296.42 361.10,260.03 362.25,296.76 363.16,260.37 364.43,296.44 365.32,262.22 366.30,296.81 367.12,261.37 368.01,297.35 369.48,261.93 370.24,296.08 371.23,261.14 372.48,297.42 373.32,260.84 374.28,296.09 375.17,262.02 376.43,296.64 377.43,261.39 378.09,296.51 379.45,260.34 380.04,296.64 381.43,260.87 382.29,295.76 383.09,260.19 384.46,294.97 385.44,260.06 386.05,294.80 387.11,259.12 388.36,293.67 389.33,258.97"/>
<polyline fill="none" stroke="#b83800" stroke-width="1.60" points="351.30,264.95 352.22,290.68 353.19,266.94 354.35,290.59 355.37,268.40 356.06,290.08 357.35,266.54 358.01,289.22 359.40,267.57 360.17,291.52 361.10,269.75 362.25,291.70 363.16,267.59 364.43,291.88 365.32,269.72 366.30,290.16 367.12,268.79 368.01,292.22 369.48,269.96 370.24,291.58 371.23,269.05 372.48,291.57 373.32,270.59 374.28,291.64 375.17,270.15 376.43,290.44 377.43,270.63 378.09,291.82 379.45,269.96 380.04,291.72 381.43,269.32 382.29,290.24 383.09,269.64 384.46,289.92 385.44,269.29 386.05,291.61 387.11,267.57 388.36,289.22 389.33,266.33"/>
<polyline fill="none" stroke="#ff8700" stroke-width="0.80" stroke-opacity="0.50" points="391.07,261.89 392.14,289.83 393.30,261.51 394.12,291.27 395.25,262.13 396.00,292.04 396.99,260.72 398.15,291.71 398.94,260.56 400.28,291.12 400.89,262.68 401.94,293.18 402.99,261.86 404.03,291.28 405.14,262.28 405.88,293.54 406.82,261.51 407.83,294.70 409.00,261.30 409.88,292.75 410.87,261.58 412.31,294.42 413.20,260.06 414.15,292.90 415.07,260.57 416.21,291.27 416.84,260.74 418.04,291.90 419.21,259.23 419.82,293.52 420.85,259.69 422.15,291.11 423.05,260.96 423.89,292.20 424.82,260.80 425.90,289.95 427.19,260.80 427.88,292.44"/>
<polyline fill="none" stroke="#ff8700" stroke-width="0.90" points="390.07,259.22 391.14,293.61 392.30,259.65 393.12,293.56 394.25,260.50 395.00,294.43 395.99,258.99 397.15,293.73 397.94,258.82 399.28,295.45 399.89,259.22 400.94,294.70 401.99,258.77 403.03,296.05 404.14,259.34 404.88,296.39 405.82,258.48 406.83,296.16 408.00,259.44 408.88,295.22 409.87,257.88 411.31,295.86 412.20,258.43 413.15,296.42 414.07,258.46 415.21,294.85 415.84,257.52 417.04,295.61 418.21,257.51 418.82,295.16 419.85,257.33 421.15,295.01 422.05,257.18 422.89,294.94 423.82,258.61 424.90,293.13 426.19,257.93 426.88,294.06 428.27,257.04"/>
<polyline fill="none" stroke="#ff8700" stroke-width="1.60" points="390.07,263.96 391.14,286.93 392.30,266.31 393.12,288.84 394.25,265.18 395.00,287.54 395.99,263.50 397.15,287.93 397.94,266.04 399.28,288.18 399.89,263.08 400.94,287.73 401.99,265.41 403.03,290.07 404.14,264.82 404.88,290.49 405.82,263.74 406.83,288.69 408.00,262.63 408.88,287.59 409.87,264.14 411.31,291.07 412.20,263.77 413.15,289.41 414.07,262.87 415.21,287.40 415.84,261.79 417.04,289.26 418.21,262.04 418.82,287.09 419.85,262.21 421.15,288.58 422.05,262.40 422.89,288.38 423.82,261.71 424.90,289.83 426.19,261.19 426.88,286.54 428.27,263.95"/>
<polyline fill="none" stroke="#ff0000" stroke-width="0.80" stroke-opacity="0.50" points="429.90,255.11 430.87,290.95 431.88,256.62 432.93,291.22 433.83,255.89 435.12,290.27 435.83,255.39 437.07,289.99 437.66,255.47 439.05,290.94 440.03,256.28 440.83,290.53 442.06,255.08 443.12,290.46 444.05,255.84 445.07,292.56 446.08,256.59 446.80,291.86 448.06,254.79 448.82,289.84 449.86,255.68 450.80,291.03 451.90,257.32 452.80,289.73 453.89,256.12 454.87,289.88 456.04,256.43 457.03,292.66 458.10,256.23 458.92,292.48 460.08,255.20 460.95,290.65 461.84,256.28 462.72,291.84 463.80,257.16 465.02,290.07 465.69,257.49 467.12,291.29"/>
<polyline fill="none" stroke="#ff0000" stroke-width="0.90" points="428.90,253.08 429.87,294.89 430.88,253.16 431.93,295.29 432.83,252.37 434.12,293.84 434.83,252.53 436.07,295.02 436.66,253.36 438.05,295.32 439.03,253.29 439.83,294.86 441.06,253.80 442.12,295.27 443.05,252.39 444.07,294.35 445.08,252.81 445.80,294.96 447.06,252.37 447.82,295.22 448.86,252.87 449.80,295.33 450.90,252.61 451.80,295.14 452.89,252.36 453.87,294.74 455.04,252.89 456.03,294.79 457.10,253.26 457.92,294.62 459.08,252.37 459.95,293.58 460.84,253.89 461.72,294.12 462.80,253.69 464.02,293.69 464.69,253.22 466.12,294.74 466.82,252.38"/>
<polyline fill="none" stroke="#ff0000" stroke-width="1.60" points="428.90,258.64 429.87,287.09 430.88,258.68 431.93,285.04 432.83,261.42 434.12,284.97 434.83,261.17 436.07,285.68 436.66,260.76 438.05,285.74 439.03,260.45 439.83,288.67 441.06,259.16 442.12,289.63 443.05,260.45 444.07,285.81 445.08,261.55 445.80,289.40 447.06,260.70 447.82,285.13 448.86,260.03 449.80,288.09 450.90,260.59 451.80,285.38 452.89,257.95 453.87,284.94 455.04,259.62 456.03,288.67 457.10,258.84 457.92,287.37 459.08,258.50 459.95,285.06 460.84,261.05 461.72,287.20 462.80,261.73 464.02,288.59 464.69,258.59 466.12,284.99 466.82,257.92"/>
<polyline fill="none" stroke="#008000" stroke-width="0.80" stroke-opacity="0.50" points="468.73,250.20 469.54,294.82 470.70,249.23 471.94,293.31 472.71,251.37 473.98,293.16 474.59,252.46 475.60,296.27 476.61,247.98 477.84,295.42 478.74,249.19 479.65,295.77 480.59,247.79 481.95,294.69 482.77,248.01 483.90,295.31 484.73,250.37 485.82,293.36 486.80,248.13 487.88,293.81 488.82,251.21 489.68,293.04 490.69,248.64 491.49,293.89 492.79,250.47 493.82,295.51 494.82,247.03 495.89,291.42 496.79,248.25 497.67,294.26 498.98,247.37 499.98,293.09 500.49,245.96 501.68,292.08 502.64,247.47 503.69,294.19 504.58,249.77 505.63,292.47"/>
<polyline fill="none" stroke="#008000" stroke-width="0.90" points="467.73,247.26 468.54,298.45 469.70,247.42 470.94,297.10 471.71,247.36 472.98,298.24 473.59,247.46 474.60,298.23 475.61,246.16 476.84,297.76 477.74,246.11 478.65,297.27 479.59,245.90 480.95,296.51 481.77,245.61 482.90,297.90 483.73,247.13 484.82,296.86 485.80,245.26 486.88,297.23 487.82,245.71 488.68,297.46 489.69,245.94 490.49,295.89 491.79,244.99 492.82,297.36 493.82,245.33 494.89,295.16 495.79,245.24 496.67,297.15 497.98,244.93 498.98,296.57 499.49,244.28 500.68,296.77 501.64,244.19 502.69,295.45 503.58,244.29 504.63,295.01 505.75,243.65"/>
<polyline fill="none" stroke="#008000" stroke-width="1.60" points="467.73,256.50 468.54,290.19 469.70,252.92 470.94,289.24 471.71,254.45 472.98,288.18 473.59,253.09 474.60,291.79 475.61,252.27 476.84,291.52 477.74,254.34 478.65,288.63 479.59,251.95 480.95,291.85 481.77,252.93 482.90,288.11 483.73,251.43 484.82,290.99 485.80,251.72 486.88,288.67 487.82,255.58 488.68,288.71 489.69,251.31 490.49,290.40 491.79,254.05 492.82,290.65 493.82,251.48 494.89,289.58 495.79,251.03 496.67,291.18 497.98,250.89 498.98,291.39 499.49,253.32 500.68,290.41 501.64,254.29 502.69,288.80 503.58,253.60 504.63,288.53 505.75,251.83"/>
<polyline fill="none" stroke="#000000" stroke-width="0.80" stroke-opacity="0.50" points="507.57,244.17 508.67,295.21 509.34,242.76 510.81,293.72 511.63,243.99 512.57,293.39 513.35,246.77 514.47,293.56 515.77,245.24 516.44,292.34 517.35,244.96 518.68,293.19 519.35,245.29 520.54,290.30 521.58,246.03 522.68,291.80 523.61,243.74 524.46,290.86 525.50,239.26 526.69,288.18 527.40,240.05 528.79,289.04 529.39,240.69 530.50,289.39 531.58,239.50 532.75,288.27 533.66,242.95 534.39,288.66 535.59,236.90 536.35,289.70 537.49,240.35 538.53,286.11 539.58,236.68 540.45,286.25 541.71,237.49 542.67,285.03 543.42,238.82 544.36,284.56 545.38,239.32"/>
<polyline fill="none" stroke="#000000" stroke-width="0.90" points="506.57,240.99 507.67,297.57 508.34,239.68 509.81,296.42 510.63,242.28 511.57,297.34 512.35,242.37 513.47,296.13 514.77,243.97 515.44,294.86 516.35,237.99 517.68,295.35 518.35,242.64 519.54,295.61 520.58,242.47 521.68,293.84 522.61,238.83 523.46,292.65 524.50,237.05 525.69,291.66 526.40,235.80 527.79,293.40 528.39,235.29 529.50,290.90 530.58,235.36 531.75,292.66 532.66,239.63 533.39,289.88 534.59,234.28 535.35,291.58 536.49,234.13 537.53,290.30 538.58,233.57 539.45,289.08 540.71,232.84 541.67,287.98 542.42,235.57 543.36,288.64 544.38,238.10"/>
<polyline fill="none" stroke="#000000" stroke-width="1.60" points="506.57,248.83 507.67,292.18 508.34,248.93 509.81,288.30 510.63,252.78 511.57,291.86 512.35,251.51 513.47,288.28 514.77,246.57 515.44,286.77 516.35,245.82 517.68,285.87 518.35,246.30 519.54,288.75 520.58,246.79 521.68,286.55 522.61,247.40 523.46,286.25 524.50,250.55 525.69,286.87 526.40,245.98 527.79,284.78 528.39,246.35 529.50,284.78 530.58,248.96 531.75,286.05 532.66,243.86 533.39,286.64 534.59,245.81 535.35,282.30 536.49,245.47 537.53,284.57 538.58,244.45 539.45,282.32 540.71,243.26 541.67,283.81 542.42,244.64 543.36,282.23 544.38,240.57"/>
</g>
<line x1="337.60" x2="348.90" y1="197.90" y2="197.90" stroke="#0000ff" stroke-width="1.80" stroke-opacity="0.50"/>
<line x1="366.40" x2="377.70" y1="197.90" y2="197.90" stroke="#b83800" stroke-width="1.80" stroke-opacity="0.50"/>
<line x1="396.20" x2="406.60" y1="197.90" y2="197.90" stroke="#ff8700" stroke-width="1.80" stroke-opacity="0.50"/>
<line x1="431.40" x2="442.30" y1="197.90" y2="197.90" stroke="#ff0000" stroke-width="1.80" stroke-opacity="0.50"/>
<line x1="464.60" x2="475.50" y1="197.90" y2="197.90" stroke="#008000" stroke-width="1.80" stroke-opacity="0.50"/>
<line x1="503.40" x2="514.80" y1="197.90" y2="197.90" stroke="#000000" stroke-width="1.80" stroke-opacity="0.50"/>
</g>
<rect x="36.50" y="11.30" width="233.00" height="149.10" fill="none" stroke="#3c3c3c" stroke-width="1.30"/>
<path d="M36.50 160.40v-2.5M36.50 11.30v2.5M68.86 160.40v-2.5M68.86 11.30v2.5M101.22 160.40v-2.5M101.22 11.30v2.5M133.58 160.40v-2.5M133.58 11.30v2.5M165.94 160.40v-2.5M165.94 11.30v2.5M198.31 160.40v-2.5M198.31 11.30v2.5M230.67 160.40v-2.5M230.67 11.30v2.5M263.03 160.40v-2.5M263.03 11.30v2.5M36.50 160.40h2.5M269.50 160.40h-2.5M36.50 135.55h2.5M269.50 135.55h-2.5M36.50 110.70h2.5M269.50 110.70h-2.5M36.50 85.85h2.5M269.50 85.85h-2.5M36.50 61.00h2.5M269.50 61.00h-2.5M36.50 36.15h2.5M269.50 36.15h-2.5M36.50 11.30h2.5M269.50 11.30h-2.5" stroke="#3c3c3c" stroke-width="1.30" fill="none"/>
<g font-family='"Liberation Serif", serif' font-weight="bold" font-size="9" fill="#000">
<text x="36.50" y="172.40" text-anchor="middle">0</text>
<text x="68.86" y="172.40" text-anchor="middle">5</text>
<text x="101.22" y="172.40" text-anchor="middle">10</text>
<text x="133.58" y="172.40" text-anchor="middle">15</text>
<text x="165.94" y="172.40" text-anchor="middle">20</text>
<text x="198.31" y="172.40" text-anchor="middle">25</text>
<text x="230.67" y="172.40" text-anchor="middle">30</text>
<text x="263.03" y="172.40" text-anchor="middle">35</text>
<text x="34.10" y="163.70" text-anchor="end">-0.2</text>
<text x="34.10" y="138.85" text-anchor="end">0</text>
<text x="34.10" y="114.00" text-anchor="end">0.2</text>
<text x="34.10" y="89.15" text-anchor="end">0.4</text>
<text x="34.10" y="64.30" text-anchor="end">0.6</text>
<text x="34.10" y="39.45" text-anchor="end">0.8</text>
<text x="34.10" y="14.60" text-anchor="end">1</text>
</g>
<text x="153.00" y="183.80" text-anchor="middle" font-family='"Liberation Serif", serif' font-weight="bold" font-size="10" fill="#000">Time (s)</text>
<text transform="translate(16.60 85.85) rotate(-90)" text-anchor="middle" font-family='"Liberation Serif", serif' font-weight="bold" font-size="10" fill="#000">Current (<tspan font-style="italic">μ</tspan>A)</text>
<text x="3.50" y="12.20" font-family='"Liberation Serif", serif' font-style="italic" font-size="12" stroke="#000" stroke-width="0.15">(a)</text>
<g font-family='"Liberation Serif", serif' font-weight="bold" font-size="8.2" fill="#000">
<text x="52.90" y="24.50">0 g/L</text>
<text x="85.60" y="24.50">5 g/L</text>
<text x="117.80" y="24.50">8.5 g/L</text>
<text x="156.60" y="24.50">17 g/L</text>
<text x="192.60" y="24.50">25.5</text>
<text x="222.30" y="24.50">34 g/L</text>
</g>
<rect x="312.50" y="11.40" width="233.10" height="149.00" fill="none" stroke="#3c3c3c" stroke-width="1.30"/>
<path d="M312.50 160.40v-2.5M312.50 11.40v2.5M344.88 160.40v-2.5M344.88 11.40v2.5M377.25 160.40v-2.5M377.25 11.40v2.5M409.62 160.40v-2.5M409.62 11.40v2.5M442.00 160.40v-2.5M442.00 11.40v2.5M474.38 160.40v-2.5M474.38 11.40v2.5M506.75 160.40v-2.5M506.75 11.40v2.5M539.12 160.40v-2.5M539.12 11.40v2.5M312.50 160.40h2.5M545.60 160.40h-2.5M312.50 139.11h2.5M545.60 139.11h-2.5M312.50 117.83h2.5M545.60 117.83h-2.5M312.50 96.54h2.5M545.60 96.54h-2.5M312.50 75.26h2.5M545.60 75.26h-2.5M312.50 53.97h2.5M545.60 53.97h-2.5M312.50 32.69h2.5M545.60 32.69h-2.5M312.50 11.40h2.5M545.60 11.40h-2.5" stroke="#3c3c3c" stroke-width="1.30" fill="none"/>
<g font-family='"Liberation Serif", serif' font-weight="bold" font-size="9" fill="#000">
<text x="312.50" y="172.40" text-anchor="middle">0</text>
<text x="344.88" y="172.40" text-anchor="middle">5</text>
<text x="377.25" y="172.40" text-anchor="middle">10</text>
<text x="409.62" y="172.40" text-anchor="middle">15</text>
<text x="442.00" y="172.40" text-anchor="middle">20</text>
<text x="474.38" y="172.40" text-anchor="middle">25</text>
<text x="506.75" y="172.40" text-anchor="middle">30</text>
<text x="539.12" y="172.40" text-anchor="middle">35</text>
<text x="310.10" y="163.70" text-anchor="end">-0.5</text>
<text x="310.10" y="142.41" text-anchor="end">0</text>
<text x="310.10" y="121.13" text-anchor="end">0.5</text>
<text x="310.10" y="99.84" text-anchor="end">1</text>
<text x="310.10" y="78.56" text-anchor="end">1.5</text>
<text x="310.10" y="57.27" text-anchor="end">2</text>
<text x="310.10" y="35.99" text-anchor="end">2.5</text>
<text x="310.10" y="14.70" text-anchor="end">3</text>
</g>
<text x="429.05" y="183.80" text-anchor="middle" font-family='"Liberation Serif", serif' font-weight="bold" font-size="10" fill="#000">Time (s)</text>
<text transform="translate(293.40 85.90) rotate(-90)" text-anchor="middle" font-family='"Liberation Serif", serif' font-weight="bold" font-size="10" fill="#000">Voltage (mV)</text>
<text x="281.00" y="12.20" font-family='"Liberation Serif", serif' font-style="italic" font-size="12" stroke="#000" stroke-width="0.15">(b)</text>
<g font-family='"Liberation Serif", serif' font-weight="bold" font-size="8.2" fill="#000">
<text x="352.40" y="23.70">0 g/l</text>
<text x="381.50" y="23.70">5 g/l</text>
<text x="410.70" y="23.70">8.5 g/l</text>
<text x="446.40" y="23.70">17 g/l</text>
<text x="479.70" y="23.70">25.5 g/l</text>
<text x="518.80" y="23.70">34 g/l</text>
</g>
<rect x="36.50" y="189.30" width="233.10" height="149.10" fill="none" stroke="#3c3c3c" stroke-width="1.30"/>
<path d="M36.50 338.40v-2.5M36.50 189.30v2.5M68.88 338.40v-2.5M68.88 189.30v2.5M101.25 338.40v-2.5M101.25 189.30v2.5M133.62 338.40v-2.5M133.62 189.30v2.5M166.00 338.40v-2.5M166.00 189.30v2.5M198.38 338.40v-2.5M198.38 189.30v2.5M230.75 338.40v-2.5M230.75 189.30v2.5M263.12 338.40v-2.5M263.12 189.30v2.5M36.50 338.40h2.5M269.60 338.40h-2.5M36.50 313.55h2.5M269.60 313.55h-2.5M36.50 288.70h2.5M269.60 288.70h-2.5M36.50 263.85h2.5M269.60 263.85h-2.5M36.50 239.00h2.5M269.60 239.00h-2.5M36.50 214.15h2.5M269.60 214.15h-2.5M36.50 189.30h2.5M269.60 189.30h-2.5" stroke="#3c3c3c" stroke-width="1.30" fill="none"/>
<g font-family='"Liberation Serif", serif' font-weight="bold" font-size="9" fill="#000">
<text x="36.50" y="350.40" text-anchor="middle">0</text>
<text x="68.88" y="350.40" text-anchor="middle">5</text>
<text x="101.25" y="350.40" text-anchor="middle">10</text>
<text x="133.62" y="350.40" text-anchor="middle">15</text>
<text x="166.00" y="350.40" text-anchor="middle">20</text>
<text x="198.38" y="350.40" text-anchor="middle">25</text>
<text x="230.75" y="350.40" text-anchor="middle">30</text>
<text x="263.12" y="350.40" text-anchor="middle">35</text>
<text x="34.10" y="341.70" text-anchor="end">-0.2</text>
<text x="34.10" y="316.85" text-anchor="end">0</text>
<text x="34.10" y="292.00" text-anchor="end">0.2</text>
<text x="34.10" y="267.15" text-anchor="end">0.4</text>
<text x="34.10" y="242.30" text-anchor="end">0.6</text>
<text x="34.10" y="217.45" text-anchor="end">0.8</text>
<text x="34.10" y="192.60" text-anchor="end">1</text>
</g>
<text x="153.05" y="361.80" text-anchor="middle" font-family='"Liberation Serif", serif' font-weight="bold" font-size="10" fill="#000">Time (s)</text>
<text transform="translate(16.60 263.85) rotate(-90)" text-anchor="middle" font-family='"Liberation Serif", serif' font-weight="bold" font-size="10" fill="#000">Current (<tspan font-style="italic">μ</tspan>A)</text>
<text x="3.50" y="188.20" font-family='"Liberation Serif", serif' font-style="italic" font-size="12" stroke="#000" stroke-width="0.15">(c)</text>
<g font-family='"Liberation Serif", serif' font-weight="bold" font-size="8.2" fill="#000">
<text x="59.20" y="201.00">0 g/l</text>
<text x="88.50" y="201.00">5 g/l</text>
<text x="117.40" y="201.00">8.5 g/l</text>
<text x="153.00" y="201.00">17 g/l</text>
<text x="186.30" y="201.00">25.5 g/l</text>
<text x="225.00" y="201.00">34 g/l</text>
</g>
<rect x="312.40" y="189.40" width="233.00" height="148.90" fill="none" stroke="#3c3c3c" stroke-width="1.30"/>
<path d="M312.40 338.30v-2.5M312.40 189.40v2.5M344.76 338.30v-2.5M344.76 189.40v2.5M377.12 338.30v-2.5M377.12 189.40v2.5M409.48 338.30v-2.5M409.48 189.40v2.5M441.84 338.30v-2.5M441.84 189.40v2.5M474.21 338.30v-2.5M474.21 189.40v2.5M506.57 338.30v-2.5M506.57 189.40v2.5M538.93 338.30v-2.5M538.93 189.40v2.5M312.40 338.30h2.5M545.40 338.30h-2.5M312.40 317.03h2.5M545.40 317.03h-2.5M312.40 295.76h2.5M545.40 295.76h-2.5M312.40 274.49h2.5M545.40 274.49h-2.5M312.40 253.21h2.5M545.40 253.21h-2.5M312.40 231.94h2.5M545.40 231.94h-2.5M312.40 210.67h2.5M545.40 210.67h-2.5M312.40 189.40h2.5M545.40 189.40h-2.5" stroke="#3c3c3c" stroke-width="1.30" fill="none"/>
<g font-family='"Liberation Serif", serif' font-weight="bold" font-size="9" fill="#000">
<text x="312.40" y="350.30" text-anchor="middle">0</text>
<text x="344.76" y="350.30" text-anchor="middle">5</text>
<text x="377.12" y="350.30" text-anchor="middle">10</text>
<text x="409.48" y="350.30" text-anchor="middle">15</text>
<text x="441.84" y="350.30" text-anchor="middle">20</text>
<text x="474.21" y="350.30" text-anchor="middle">25</text>
<text x="506.57" y="350.30" text-anchor="middle">30</text>
<text x="538.93" y="350.30" text-anchor="middle">35</text>
<text x="310.00" y="341.60" text-anchor="end">-1</text>
<text x="310.00" y="320.33" text-anchor="end">-0.5</text>
<text x="310.00" y="299.06" text-anchor="end">0</text>
<text x="310.00" y="277.79" text-anchor="end">0.5</text>
<text x="310.00" y="256.51" text-anchor="end">1</text>
<text x="310.00" y="235.24" text-anchor="end">1.5</text>
<text x="310.00" y="213.97" text-anchor="end">2</text>
<text x="310.00" y="192.70" text-anchor="end">2.5</text>
</g>
<text x="428.90" y="361.70" text-anchor="middle" font-family='"Liberation Serif", serif' font-weight="bold" font-size="10" fill="#000">Time (s)</text>
<text transform="translate(293.40 263.85) rotate(-90)" text-anchor="middle" font-family='"Liberation Serif", serif' font-weight="bold" font-size="10" fill="#000">Voltage (mV)</text>
<text x="281.00" y="188.20" font-family='"Liberation Serif", serif' font-style="italic" font-size="12" stroke="#000" stroke-width="0.15">(d)</text>
<g font-family='"Liberation Serif", serif' font-weight="bold" font-size="8.2" fill="#000">
<text x="349.60" y="201.00">0 g/l</text>
<text x="378.30" y="201.00">5 g/l</text>
<text x="407.40" y="201.00">8.5 g/l</text>
<text x="443.70" y="201.00">17 g/l</text>
<text x="476.40" y="201.00">25.5 g/l</text>
<text x="515.60" y="201.00">34 g/l</text>
</g>
</svg></body></html>
